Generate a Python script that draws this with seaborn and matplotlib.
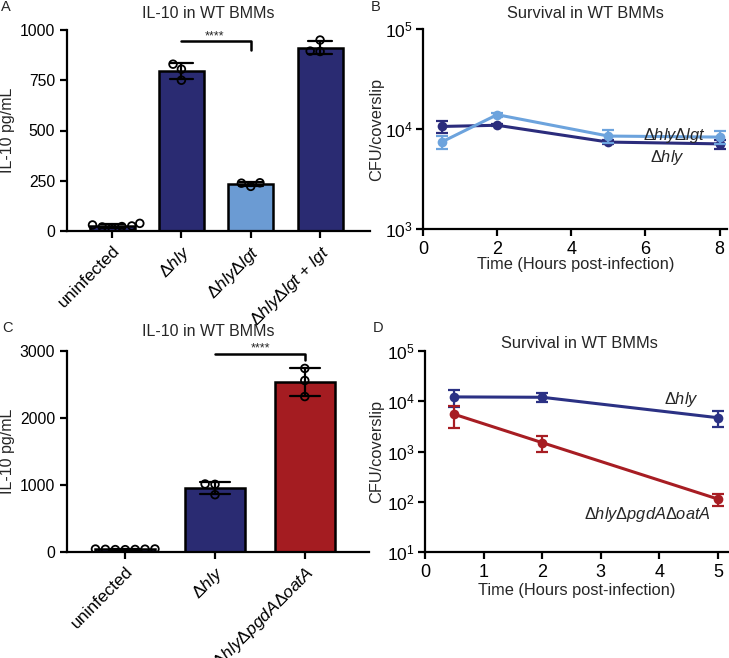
import numpy as np
import pandas as pd
import matplotlib.pyplot as plt
import seaborn as sns
from matplotlib.ticker import NullLocator

# ---- data ----
# panel A: IL-10 (pg/mL), replicate points per group
a_groups = ['uninfected', 'hly', 'hly_lgt', 'hly_lgt_lgt']
a_labels = ['uninfected', r'$\Delta\mathit{hly}$', r'$\Delta\mathit{hly}\Delta\mathit{lgt}$',
            r'$\Delta\mathit{hly}\Delta\mathit{lgt}$ + $\mathit{lgt}$']
a_uninf = [38, 30, 25, 22, 20, 15]
a_hly = [830, 805, 750]
a_hly_lgt = [222, 238, 240]
a_hly_lgt_comp = [950, 895, 893]
a_colors = ['#2a2b72', '#2a2b72', '#6b9bd3', '#2a2b72']

# panel C: IL-10 (pg/mL)
c_groups = ['uninfected', 'hly', 'hly_pgda_oata']
c_labels = ['uninfected', r'$\Delta\mathit{hly}$', r'$\Delta\mathit{hly}\Delta\mathit{pgdA}\Delta\mathit{oatA}$']
c_uninf = [40, 45, 35, 42, 38, 44, 36]
c_hly = [1010, 1015, 855]
c_hly_pgda = [2740, 2560, 2320]
c_colors = ['#2a2b72', '#2a2b72', '#a41c21']

# panel B: CFU/coverslip over time
b_time = [0.5, 2, 5, 8]
b_hly_mean = [10600, 10900, 7400, 7100]
b_hly_sd = [1400, 300, 400, 750]
b_lgt_mean = [7400, 13900, 8500, 8300]
b_lgt_sd = [1100, 600, 1200, 1200]

# panel D: CFU/coverslip over time
d_time = [0.5, 2, 5]
d_hly_mean = [12200, 12000, 4700]
d_hly_sd = [4500, 2400, 1600]
d_pgda_mean = [5500, 1500, 113]
d_pgda_sd = [2600, 520, 32]

navy = '#2b2c7c'
light = '#6ca3dd'
blue_d = '#2b3184'
red = '#a71d23'

sns.set_style('ticks')
plt.rcParams['font.family'] = ['Liberation Sans', 'DejaVu Sans']
plt.rcParams['mathtext.fontset'] = 'custom'
plt.rcParams['mathtext.rm'] = 'Liberation Sans'
plt.rcParams['mathtext.it'] = 'Liberation Sans:italic'
plt.rcParams['mathtext.bf'] = 'Liberation Sans:bold'
plt.rcParams['axes.linewidth'] = 1.6
plt.rcParams['xtick.major.width'] = 1.6
plt.rcParams['ytick.major.width'] = 1.6
plt.rcParams['xtick.major.size'] = 5
plt.rcParams['ytick.major.size'] = 5
plt.rcParams['xtick.labelsize'] = 11
plt.rcParams['ytick.labelsize'] = 11
plt.rcParams['xtick.color'] = 'black'
plt.rcParams['ytick.color'] = 'black'
plt.rcParams['axes.edgecolor'] = 'black'

W, H = 729, 658
fig = plt.figure(figsize=(W / 100, H / 100), dpi=100)


def px_axes(left, top, right, bottom):
    return fig.add_axes([left / W, 1 - bottom / H, (right - left) / W, (bottom - top) / H])


axA = px_axes(67, 30, 370, 231)
axB = px_axes(423, 29, 727, 229)
axC = px_axes(67, 351, 369, 552)
axD = px_axes(425, 351, 728, 552)


def bar_panel(ax, groups, values, colors, labels, width):
    df = pd.DataFrame({
        'group': np.repeat(groups, [len(v) for v in values]),
        'il10': np.concatenate(values),
    })
    sns.barplot(data=df, x='group', y='il10', hue='group', order=groups, hue_order=groups,
                palette=colors, saturation=1, errorbar='sd', capsize=0.34, width=width,
                edgecolor='black', linewidth=1.8,
                err_kws={'color': 'black', 'linewidth': 1.6}, legend=False, ax=ax)
    sns.swarmplot(data=df, x='group', y='il10', order=groups, color='black',
                  size=5.5, linewidth=1.3, edgecolor='black', ax=ax)
    for c in ax.collections:
        c.set_facecolor('none')
        c.set_edgecolor('black')
        c.set_zorder(4)
    ax.set_xticks(range(len(groups)))
    ax.set_xticklabels(labels, rotation=45, ha='right', rotation_mode='anchor', fontsize=12.5)
    ax.tick_params(axis='y', labelsize=11.3)
    ax.set_xlabel('')
    ax.set_ylabel('IL-10 pg/mL', fontsize=11.5)
    ax.yaxis.set_label_coords(-0.172, 0.5)
    sns.despine(ax=ax)


bar_panel(axA, a_groups, [a_uninf, a_hly, a_hly_lgt, a_hly_lgt_comp], a_colors, a_labels, 0.65)
axA.set_ylim(0, 1000)
axA.set_yticks([0, 250, 500, 750, 1000])
axA.set_xlim(-0.65, 3.72)
axA.plot([1, 2, 2], [945, 945, 900], color='black', linewidth=1.8, clip_on=False)
axA.text(1.47, 955, '****', ha='center', va='baseline', fontsize=9)

bar_panel(axC, c_groups, [c_uninf, c_hly, c_hly_pgda], c_colors, c_labels, 0.67)
axC.set_ylim(0, 3000)
axC.set_yticks([0, 1000, 2000, 3000])
axC.set_xlim(-0.648, 2.715)
axC.plot([1, 2, 2], [2960, 2960, 2860], color='black', linewidth=1.8, clip_on=False)
axC.text(1.51, 2990, '****', ha='center', va='baseline', fontsize=9, clip_on=False)


def line_panel(ax, t, series):
    for mean, sd, col in series:
        sns.lineplot(x=t, y=mean, color=col, marker='o', markersize=7,
                     markeredgewidth=0, linewidth=2.2, ax=ax)
        ax.errorbar(t, mean, yerr=sd, fmt='none', ecolor=col, elinewidth=1.6,
                    capsize=4, capthick=1.6)
    ax.set_yscale('log')
    ax.yaxis.set_minor_locator(NullLocator())
    ax.tick_params(axis='x', labelsize=13)
    ax.tick_params(axis='y', labelsize=12.5, pad=2.5)
    ax.set_ylabel('CFU/coverslip', fontsize=11.8)
    ax.set_xlabel('Time (Hours post-infection)', fontsize=11.8)
    sns.despine(ax=ax)


line_panel(axB, b_time, [(b_hly_mean, b_hly_sd, navy), (b_lgt_mean, b_lgt_sd, light)])
axB.set_ylim(1e3, 1e5)
axB.set_xlim(0, 8.2)
axB.set_xticks([0, 2, 4, 6, 8])
axB.yaxis.set_label_coords(-0.128, 0.5)
axB.xaxis.set_label_coords(0.503, -0.14)
axB.text(6.79, 8.7e3, r'$\mathit{\Delta hly\Delta lgt}$', ha='center', va='center', fontsize=11.8)
axB.text(6.59, 5.2e3, r'$\mathit{\Delta hly}$', ha='center', va='center', fontsize=11.8)

line_panel(axD, d_time, [(d_hly_mean, d_hly_sd, blue_d), (d_pgda_mean, d_pgda_sd, red)])
axD.set_ylim(1e1, 1e5)
axD.set_xlim(0, 5.17)
axD.set_xticks([0, 1, 2, 3, 4, 5])
axD.yaxis.set_label_coords(-0.135, 0.5)
axD.xaxis.set_label_coords(0.5, -0.154)
axD.text(4.38, 1.06e4, r'$\Delta\mathit{hly}$', ha='center', va='center', fontsize=11.8)
axD.text(3.80, 54.5, r'$\Delta\mathit{hly}\Delta\mathit{pgdA}\Delta\mathit{oatA}$',
         ha='center', va='center', fontsize=11.8)

# titles and panel letters
fig.text(208 / W, 1 - 14 / H, 'IL-10 in WT BMMs', ha='center', va='center', fontsize=11.5)
fig.text(585 / W, 1 - 14 / H, 'Survival in WT BMMs', ha='center', va='center', fontsize=11.8)
fig.text(208 / W, 1 - 332 / H, 'IL-10 in WT BMMs', ha='center', va='center', fontsize=11.5)
fig.text(579 / W, 1 - 343 / H, 'Survival in WT BMMs', ha='center', va='center', fontsize=11.8)
for letter, x, y in [('A', 6, 7), ('B', 376, 7), ('C', 8, 328), ('D', 378, 328)]:
    fig.text(x / W, 1 - y / H, letter, ha='center', va='center', fontsize=10.5)

fig.savefig('out.png', dpi=100)
